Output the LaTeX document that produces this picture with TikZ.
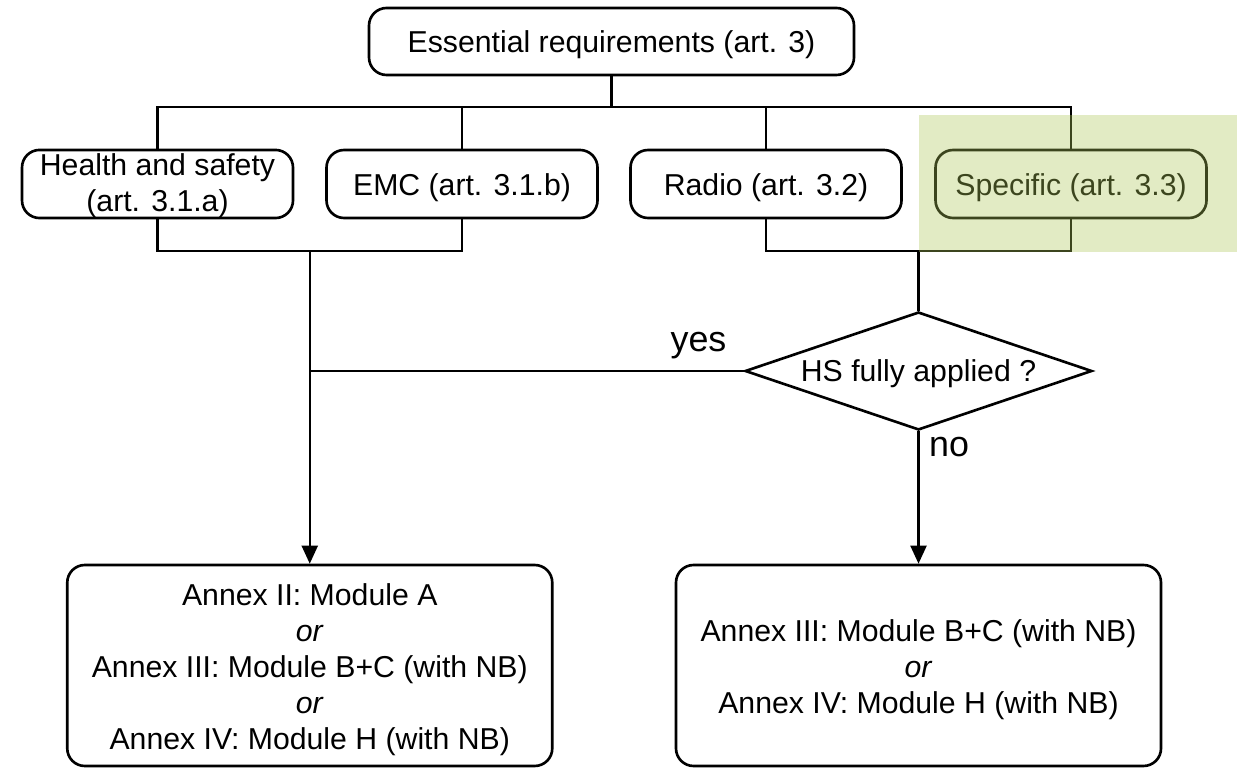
\documentclass[tikz,border=0pt]{standalone}
\usepackage{fontspec}
\setmainfont{Liberation Sans}
\usetikzlibrary{arrows.meta,positioning,shapes.geometric}
\definecolor{hilite}{HTML}{ACC656}

\begin{document}
\begin{tikzpicture}[
  box/.style={draw,rounded corners=5pt,line width=0.75pt,minimum width=2.71cm,minimum height=0.68cm,font=\fontsize{8.6}{10.2}\selectfont,align=center,inner sep=0pt,execute at begin node={\rule{0pt}{0.29cm}}},
  bigbox/.style={box,minimum width=4.85cm,minimum height=2.01cm},
  link/.style={line width=0.6pt},
  lbl/.style={font=\fontsize{10.2}{12}\selectfont,inner sep=0pt,anchor=base}]

  \useasboundingbox (0,0) rectangle (12.45,7.68);

  % Top
  \node[box,minimum width=4.85cm,minimum height=0.67cm] (essreq) at (6.115,7.265) {Essential requirements (art. 3)};

  % Requirements
  \node[box] (health) at (1.575,5.84) {\rule{0pt}{0.26cm}Health and safety\\(art. 3.1.a)};
  \node[box] (emc) at (4.62,5.84) {EMC (art. 3.1.b)};
  \node[box] (radio) at (7.66,5.84) {Radio (art. 3.2)};
  \node[box] (specific) at (10.71,5.84) {Specific (art. 3.3)};

  \coordinate (branch) at (6.115,6.61);
  \draw[link] (essreq) -- (branch);
  \draw[link] (health) -- (health |- branch) -- (specific |- branch) -- (specific);
  \draw[link] (emc) -- (emc |- branch);
  \draw[link] (radio) -- (radio |- branch);

  % Decision
  \node[draw,diamond,line width=0.75pt,aspect=3,inner sep=0pt,minimum width=3.47cm,minimum height=1.18cm,font=\fontsize{8.6}{10.2}\selectfont] (hsq) at (9.185,3.97) {\rule{0pt}{0.27cm}HS fully applied ?};

  % Modules
  \node[bigbox] (annexL) at (3.0975,1.025) {\rule{0pt}{0.30cm}Annex II: Module A\\\textit{or}\\Annex III: Module B+C (with NB)\\\textit{or}\\Annex IV: Module H (with NB)};
  \node[bigbox] (annexR) at (9.185,1.025) {\rule{0pt}{0.30cm}Annex III: Module B+C (with NB)\\\textit{or}\\Annex IV: Module H (with NB)};

  \coordinate (mergeL) at (3.0975,5.17);
  \coordinate (mergeR) at (9.185,5.17);
  \draw[link] (health) -- (health |- mergeL) -- (emc |- mergeL) -- (emc);
  \draw[link] (radio) -- (radio |- mergeR) -- (specific |- mergeR) -- (specific);
  \draw[link,-{Triangle[length=0.18cm,width=0.16cm]}] (mergeL) -- (annexL);
  \draw[link] (mergeR) -- (hsq);
  \draw[link] (hsq) -- (hsq -| mergeL);
  \draw[link,-{Triangle[length=0.18cm,width=0.16cm]}] (hsq) -- (annexR);

  \node[lbl] (yes) at (6.985,4.16) {yes};
  \node[lbl] (no) at (9.49,3.11) {no};

  % Highlight
  \fill[hilite,fill opacity=0.35] (9.19,5.16) rectangle (12.37,6.53);
\end{tikzpicture}
\end{document}
